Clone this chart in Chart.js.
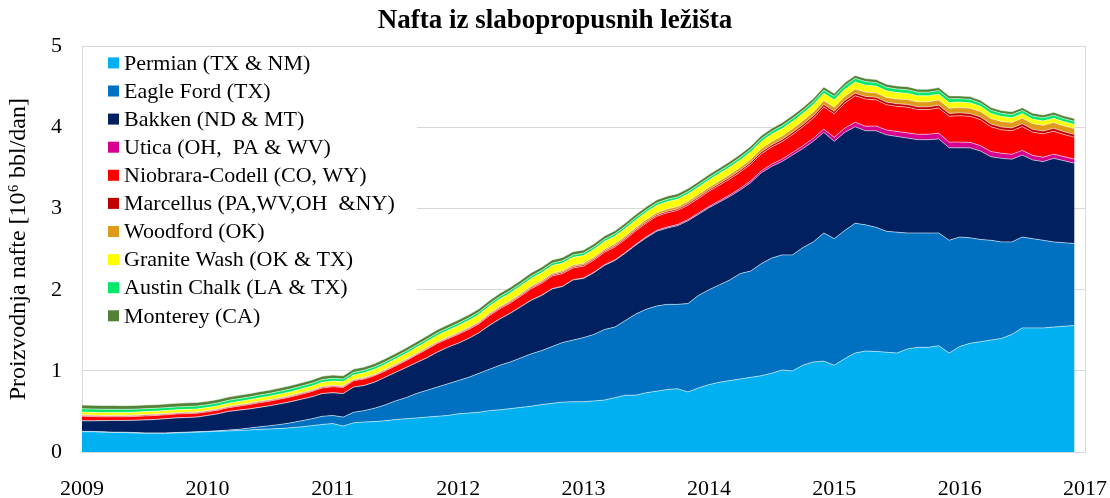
<!DOCTYPE html>
<html>
<head>
<meta charset="utf-8">
<script src="https://cdn.jsdelivr.net/npm/chart.js@4.4.1/dist/chart.umd.min.js"></script>
<style>
html,body{margin:0;padding:0;background:#ffffff;}
canvas{display:block;}
</style>
</head>
<body>
<canvas id="c" width="1110" height="498"></canvas>
<script>
// ---------- DATA (monthly, Jan 2009 .. Dec 2016), million bbl/day ----------
const startYear = 2009;
const titleText = 'Nafta iz slabopropusnih ležišta';
const yTitle = 'Proizvodnja nafte [10\u2076 bbl/dan]';
const xTickLabels = ['2009','2010','2011','2012','2013','2014','2015','2016','2017'];
const yTickLabels = ['0','1','2','3','4','5'];

const seriesNames = [
  'Permian (TX & NM)',
  'Eagle Ford (TX)',
  'Bakken (ND & MT)',
  'Utica (OH,  PA & WV)',
  'Niobrara-Codell (CO, WY)',
  'Marcellus (PA,WV,OH  &NY)',
  'Woodford (OK)',
  'Granite Wash (OK & TX)',
  'Austin Chalk (LA & TX)',
  'Monterey (CA)'
];
const seriesColors = ['#00B0F0','#0070C0','#002060','#D5008F','#FF0000','#C00000','#E09A1A','#FFFF00','#00E86C','#538135'];

const permian = [
  0.25,0.25,0.245,0.24,0.24,0.235,0.23,0.23,0.23,0.235,0.24,0.245,
  0.25,0.255,0.26,0.265,0.27,0.28,0.285,0.29,0.30,0.31,0.325,0.34,
  0.35,0.32,0.36,0.37,0.375,0.385,0.40,0.41,0.42,0.43,0.44,0.45,
  0.47,0.48,0.49,0.51,0.52,0.535,0.55,0.565,0.585,0.60,0.615,0.62,
  0.62,0.63,0.64,0.67,0.70,0.70,0.73,0.75,0.77,0.78,0.74,0.79,
  0.83,0.86,0.88,0.90,0.92,0.94,0.97,1.01,1.00,1.07,1.11,1.12,
  1.07,1.15,1.22,1.245,1.24,1.23,1.22,1.27,1.29,1.29,1.31,1.22,
  1.30,1.34,1.36,1.38,1.40,1.45,1.53,1.53,1.53,1.54,1.55,1.56
];
const eagleFord = [
  0.004,0.004,0.004,0.004,0.004,0.005,0.005,0.005,0.005,0.005,0.005,0.005,
  0.005,0.007,0.01,0.015,0.025,0.03,0.04,0.05,0.06,0.075,0.085,0.10,
  0.10,0.11,0.13,0.14,0.165,0.195,0.23,0.26,0.30,0.33,0.36,0.39,
  0.41,0.44,0.48,0.51,0.55,0.575,0.61,0.645,0.665,0.70,0.735,0.76,
  0.79,0.82,0.87,0.87,0.92,1.00,1.03,1.05,1.05,1.04,1.09,1.14,
  1.17,1.20,1.24,1.30,1.31,1.38,1.42,1.42,1.43,1.45,1.48,1.58,
  1.56,1.58,1.60,1.555,1.53,1.49,1.49,1.43,1.41,1.41,1.39,1.39,
  1.35,1.30,1.26,1.23,1.19,1.14,1.12,1.10,1.08,1.05,1.03,1.01
];
const bakken = [
  0.13,0.13,0.137,0.145,0.145,0.15,0.16,0.165,0.175,0.18,0.18,0.18,
  0.195,0.208,0.23,0.235,0.235,0.24,0.245,0.255,0.26,0.265,0.27,0.28,
  0.28,0.29,0.31,0.31,0.32,0.34,0.35,0.37,0.38,0.40,0.43,0.45,
  0.46,0.48,0.50,0.54,0.57,0.60,0.63,0.66,0.68,0.71,0.69,0.74,
  0.73,0.76,0.79,0.82,0.83,0.85,0.88,0.92,0.94,0.97,1.02,1.00,
  1.01,1.02,1.03,1.03,1.09,1.12,1.13,1.15,1.23,1.22,1.24,1.24,
  1.20,1.21,1.19,1.16,1.19,1.19,1.18,1.17,1.15,1.15,1.16,1.14,
  1.10,1.11,1.09,1.03,1.03,1.02,1.01,0.97,0.97,1.03,1.01,0.99
];
const utica = [
  0,0,0,0,0,0,0,0,0,0,0,0,
  0,0,0,0,0,0,0,0,0,0,0,0,
  0,0,0,0,0,0,0,0,0,0,0,0,
  0,0,0,0.001,0.001,0.002,0.002,0.003,0.003,0.004,0.004,0.004,
  0.005,0.006,0.007,0.008,0.009,0.010,0.011,0.012,0.013,0.014,0.015,0.015,
  0.015,0.017,0.019,0.021,0.023,0.025,0.027,0.03,0.032,0.035,0.037,0.04,
  0.05,0.052,0.054,0.056,0.058,0.06,0.062,0.064,0.066,0.068,0.07,0.07,
  0.07,0.068,0.066,0.064,0.062,0.06,0.058,0.056,0.054,0.052,0.051,0.05
];
const niobrara = [
  0.057,0.053,0.048,0.046,0.046,0.048,0.05,0.05,0.048,0.048,0.048,0.048,
  0.045,0.045,0.046,0.05,0.055,0.058,0.058,0.058,0.06,0.063,0.066,0.07,
  0.075,0.076,0.078,0.08,0.08,0.077,0.08,0.085,0.095,0.105,0.108,0.105,
  0.11,0.11,0.11,0.12,0.125,0.125,0.13,0.14,0.148,0.155,0.155,0.145,
  0.146,0.15,0.154,0.158,0.162,0.166,0.17,0.173,0.176,0.174,0.177,0.18,
  0.188,0.192,0.196,0.20,0.204,0.208,0.212,0.216,0.22,0.234,0.248,0.273,
  0.291,0.309,0.327,0.335,0.323,0.311,0.309,0.317,0.305,0.303,0.311,0.319,
  0.326,0.32,0.32,0.305,0.29,0.29,0.293,0.287,0.288,0.283,0.272,0.27
];
const marcellus = [
  0.01,0.01,0.01,0.01,0.01,0.01,0.01,0.01,0.01,0.01,0.01,0.01,
  0.01,0.01,0.01,0.01,0.01,0.01,0.01,0.01,0.01,0.01,0.01,0.01,
  0.01,0.01,0.01,0.01,0.01,0.01,0.01,0.01,0.01,0.01,0.01,0.01,
  0.012,0.012,0.013,0.013,0.014,0.014,0.014,0.015,0.015,0.015,0.016,0.016,
  0.016,0.016,0.017,0.017,0.017,0.018,0.018,0.018,0.019,0.019,0.02,0.02,
  0.02,0.021,0.022,0.023,0.024,0.025,0.026,0.027,0.028,0.028,0.029,0.03,
  0.03,0.031,0.031,0.032,0.032,0.033,0.033,0.034,0.034,0.035,0.035,0.035,
  0.035,0.035,0.035,0.035,0.035,0.035,0.035,0.035,0.035,0.035,0.035,0.035
];
const woodford = [
  0.008,0.008,0.008,0.008,0.008,0.008,0.008,0.008,0.008,0.008,0.008,0.008,
  0.008,0.008,0.008,0.009,0.009,0.009,0.009,0.01,0.01,0.01,0.01,0.01,
  0.01,0.01,0.01,0.011,0.011,0.011,0.012,0.012,0.012,0.013,0.013,0.013,
  0.013,0.014,0.014,0.015,0.015,0.016,0.017,0.017,0.018,0.019,0.019,0.02,
  0.02,0.021,0.022,0.023,0.024,0.025,0.026,0.027,0.028,0.028,0.029,0.03,
  0.03,0.032,0.034,0.035,0.037,0.039,0.041,0.042,0.044,0.046,0.048,0.05,
  0.05,0.051,0.053,0.054,0.055,0.057,0.058,0.06,0.061,0.062,0.064,0.065,
  0.065,0.066,0.066,0.067,0.068,0.068,0.069,0.07,0.07,0.071,0.071,0.072
];
const graniteWash = [
  0.035,0.035,0.035,0.035,0.035,0.035,0.035,0.035,0.035,0.035,0.035,0.035,
  0.036,0.037,0.038,0.039,0.04,0.041,0.042,0.043,0.044,0.045,0.047,0.049,
  0.05,0.05,0.052,0.055,0.058,0.06,0.063,0.066,0.07,0.073,0.076,0.08,
  0.082,0.085,0.088,0.09,0.092,0.094,0.095,0.095,0.095,0.095,0.095,0.095,
  0.095,0.095,0.094,0.093,0.092,0.091,0.09,0.09,0.09,0.09,0.09,0.09,
  0.09,0.09,0.09,0.09,0.09,0.09,0.09,0.09,0.09,0.09,0.09,0.09,
  0.088,0.087,0.086,0.085,0.083,0.081,0.079,0.077,0.075,0.073,0.071,0.07,
  0.068,0.066,0.064,0.062,0.06,0.058,0.056,0.055,0.054,0.053,0.052,0.051
];
const austinChalk = [
  0.04,0.04,0.04,0.039,0.038,0.037,0.036,0.036,0.035,0.035,0.035,0.035,
  0.035,0.035,0.035,0.035,0.035,0.035,0.035,0.035,0.035,0.035,0.035,0.035,
  0.033,0.033,0.032,0.032,0.031,0.031,0.03,0.03,0.03,0.03,0.03,0.03,
  0.03,0.03,0.03,0.03,0.03,0.03,0.03,0.03,0.03,0.03,0.03,0.03,
  0.03,0.03,0.03,0.03,0.03,0.03,0.03,0.03,0.03,0.03,0.03,0.03,
  0.03,0.031,0.032,0.033,0.034,0.035,0.036,0.037,0.038,0.038,0.039,0.04,
  0.045,0.045,0.045,0.045,0.045,0.045,0.045,0.045,0.045,0.045,0.045,0.045,
  0.042,0.042,0.041,0.041,0.04,0.04,0.04,0.039,0.039,0.039,0.038,0.038
];
const monterey = [
  0.045,0.045,0.045,0.045,0.045,0.045,0.045,0.045,0.045,0.045,0.045,0.045,
  0.042,0.042,0.041,0.041,0.04,0.04,0.04,0.04,0.04,0.04,0.04,0.04,
  0.04,0.04,0.04,0.04,0.04,0.04,0.04,0.04,0.04,0.04,0.04,0.04,
  0.04,0.04,0.04,0.04,0.04,0.04,0.04,0.04,0.04,0.04,0.04,0.04,
  0.038,0.038,0.038,0.038,0.038,0.038,0.038,0.038,0.038,0.038,0.038,0.038,
  0.037,0.037,0.037,0.037,0.037,0.037,0.037,0.037,0.037,0.037,0.037,0.037,
  0.036,0.036,0.036,0.036,0.036,0.036,0.036,0.036,0.036,0.036,0.036,0.036,
  0.034,0.034,0.034,0.034,0.034,0.034,0.034,0.034,0.034,0.034,0.034,0.034
];

const seriesValues = [permian, eagleFord, bakken, utica, niobrara, marcellus, woodford, graniteWash, austinChalk, monterey];

// ---------- CHART ----------
const serif = "'Liberation Serif', 'Times New Roman', serif";

const datasets = seriesValues.map((vals, i) => ({
  label: seriesNames[i],
  data: vals.map((v, m) => ({ x: startYear + m / 12, y: v })),
  backgroundColor: seriesColors[i],
  borderColor: 'rgba(255,255,255,0.55)',
  borderWidth: 1,
  pointRadius: 0,
  pointHoverRadius: 0,
  tension: 0,
  fill: i === 0 ? 'origin' : '-1',
  stack: 'plays'
}));

const framePlugin = {
  id: 'frame',
  beforeDatasetsDraw(chart) {
    const a = chart.chartArea, ctx = chart.ctx;
    ctx.save();
    ctx.strokeStyle = '#D9D9D9';
    ctx.lineWidth = 1;
    ctx.strokeRect(Math.round(a.left) + 0.5, Math.round(a.top) + 0.5,
                   Math.round(a.right - a.left), Math.round(a.bottom - a.top));
    ctx.restore();
  }
};

const insideLegend = {
  id: 'insideLegend',
  afterDatasetsDraw(chart) {
    const a = chart.chartArea, ctx = chart.ctx;
    ctx.save();
    ctx.fillStyle = '#ffffff';
    ctx.fillRect(a.left + 1, a.top + 1, 334, 284);
    ctx.font = '22px ' + serif;
    ctx.textBaseline = 'middle';
    ctx.textAlign = 'left';
    chart.data.datasets.forEach((ds, i) => {
      const y = a.top + 16.5 + i * 28.1;
      ctx.fillStyle = ds.backgroundColor;
      ctx.fillRect(a.left + 26, y - 5.5, 11, 11);
      ctx.fillStyle = '#000000';
      ctx.fillText(ds.label, a.left + 42, y + 1);
    });
    ctx.restore();
  }
};

new Chart(document.getElementById('c'), {
  type: 'line',
  data: { datasets },
  options: {
    responsive: false,
    animation: false,
    devicePixelRatio: 1,
    layout: { padding: { left: 0, right: 0, top: 0, bottom: 0 } },
    plugins: {
      legend: { display: false },
      tooltip: { enabled: false },
      filler: { propagate: false },
      title: {
        display: true,
        text: titleText,
        color: '#000000',
        font: { family: serif, size: 27, weight: 'bold' },
        padding: { top: 5, bottom: 9 }
      }
    },
    scales: {
      x: {
        type: 'linear',
        min: 2009,
        max: 2017,
        grid: { display: false, drawTicks: false },
        border: { display: true, color: '#D9D9D9' },
        ticks: {
          stepSize: 1,
          padding: 24,
          color: '#000000',
          font: { family: serif, size: 22 },
          maxRotation: 0,
          autoSkip: false,
          callback: (v, idx) => xTickLabels[idx]
        },
        afterFit: (s) => { s.height = 46; s.paddingRight = 25; s.paddingLeft = 0; }
      },
      y: {
        stacked: true,
        min: 0,
        max: 5,
        grid: { color: '#D9D9D9', drawTicks: false },
        border: { display: true, color: '#D9D9D9' },
        ticks: {
          stepSize: 1,
          padding: 20,
          color: '#000000',
          font: { family: serif, size: 22 },
          callback: (v, idx) => yTickLabels[idx]
        },
        title: {
          display: true,
          text: yTitle,
          color: '#000000',
          font: { family: serif, size: 24 },
          padding: { top: 4, bottom: 0 }
        },
        afterFit: (s) => { s.width = 82; s.paddingTop = 0; s.paddingBottom = 0; }
      }
    }
  },
  plugins: [framePlugin, insideLegend]
});
</script>
</body>
</html>
